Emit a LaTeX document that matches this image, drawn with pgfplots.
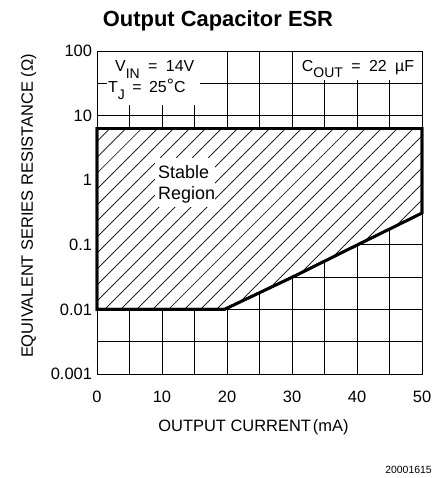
\documentclass[border=0pt]{standalone}
\usepackage{pgfplots}
\pgfplotsset{compat=1.18}
\usepackage{fontspec}
\setmainfont{Liberation Sans}
\usetikzlibrary{patterns.meta}
\newcommand{\fs}[1]{\fontsize{#1}{#1}\selectfont}
\newcommand{\gap}[1]{\hspace*{#1}}
\begin{document}
\begin{tikzpicture}[x=1bp,y=1bp]
\path[use as bounding box] (-97,-104) rectangle (338,374);
\begin{axis}[
  at={(0,0)}, anchor=south west,
  scale only axis, width=325bp, height=323bp,
  ymode=log, xmin=0, xmax=50, ymin=0.001, ymax=100,
  xtick={0,10,20,30,40,50},
  xticklabels={0,10,20,30,40,50},
  minor xtick={5,15,25,35,45},
  ytick={0.001,0.01,0.1,1,10,100},
  yticklabels={0.001,0.01,0.1,1,10,100},
  minor ytick={0.003162,0.03162,0.3162,3.162,31.62},
  grid=both,
  major grid style={black, line width=0.8bp},
  minor grid style={black, line width=0.8bp},
  major tick length=0pt, minor tick length=0pt,
  axis line style={black, line width=0.9bp},
  tick label style={font=\fs{16.5}},
  xticklabel style={anchor=base, yshift=-28bp},
  yticklabel style={anchor=east, xshift=-1.5bp},
  clip=false,
]
\addplot[draw=black, line width=2.8bp, line join=miter,
  preaction={fill=white},
  pattern={Lines[angle=45, distance=11.3bp, line width=0.7bp]}]
  coordinates {(0,0.01) (19.6,0.01) (30,0.0314) (40,0.099) (50,0.31) (50,6.3) (0,6.3)} -- cycle;
% white boxes behind the annotations
\fill[white] (axis cs:0.2,96.5) rectangle (axis cs:19.3,34.3);
\fill[white] (axis cs:1.5,41) rectangle (axis cs:15.85,14.6);
\fill[white] (axis cs:30.15,96.5) rectangle (axis cs:49.85,35);
\fill[white] (axis cs:8.9,2.21) rectangle (axis cs:18.2,0.385);
\node[anchor=base west, inner sep=0, font=\fs{16}] at (axis cs:2.77,48)
  {V\raisebox{-6.5bp}{\fs{14}IN}\gap{4bp} = \gap{4bp}14V};
\node[anchor=base west, inner sep=0, font=\fs{16}] at (axis cs:1.7,22.4)
  {T\raisebox{-6.5bp}{\fs{14}J}\gap{3bp} = \gap{3bp}25\raisebox{1bp}{\fs{18}°}C};
\node[anchor=base west, inner sep=0, font=\fs{16}] at (axis cs:31.5,49)
  {C\raisebox{-6.5bp}{\fs{14}OUT}\gap{4bp} = \gap{4bp}22\gap{4bp} µF};
\node[anchor=base west, inner sep=0, font=\fs{18}] at (axis cs:9.38,1.07) {Stable};
\node[anchor=base west, inner sep=0, font=\fs{18}] at (axis cs:9.38,0.494) {Region};
\draw[black, line width=0.9bp] (rel axis cs:0,0) rectangle (rel axis cs:1,1);
\end{axis}
\node[anchor=base, font=\bfseries\fs{22}] at (121,347) {Output Capacitor ESR};
\node[rotate=90, anchor=base, font=\fs{16.5}] at (-64,168) {EQUIVALENT SERIES RESISTANCE (Ω)};
\node[anchor=base, font=\fs{16.5}] at (156.5,-57) {OUTPUT CURRENT\kern2bp(mA)};
\node[anchor=base east, inner sep=0, font=\fs{10.5}] at (335,-99) {20001615};
\end{tikzpicture}
\end{document}
